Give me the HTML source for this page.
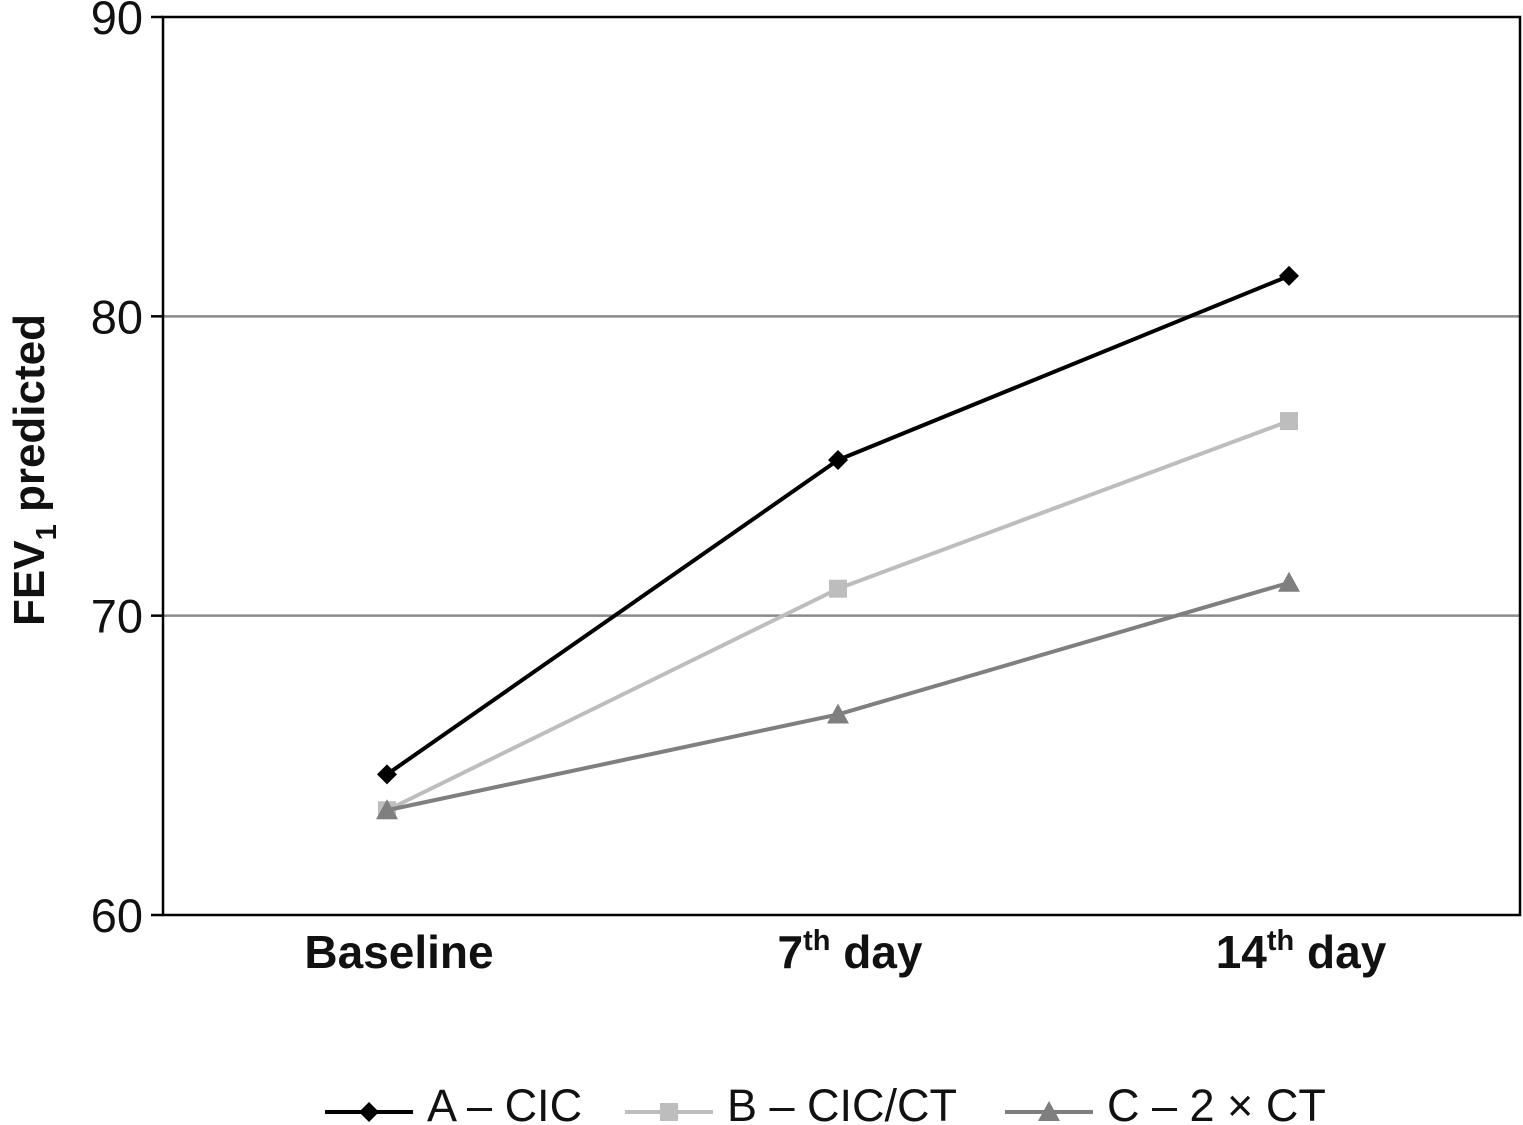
<!DOCTYPE html>
<html><head><meta charset="utf-8"><style>
html,body{margin:0;padding:0;background:#fff;}
svg{display:block;font-family:"Liberation Sans",sans-serif;}
</style></head><body>
<svg id="chart" width="1523" height="1125">
<g id="grid"></g><g id="axes"></g><g id="series"></g><g id="legend"></g>
</svg>
<script>
const categories = ["Baseline", "7th day", "14th day"];
const seriesNames = ["A – CIC", "B – CIC/CT", "C – 2 × CT"];
const seriesA = [64.7, 75.2, 81.35];
const seriesB = [63.5, 70.9, 76.5];
const seriesC = [63.5, 66.7, 71.1];
const yTicks = [60, 70, 80, 90];

const NS = "http://www.w3.org/2000/svg";
const L = 163, R = 1520, T = 17, B = 915;
const yMin = 60, yMax = 90;
function y(v){ return B - (v - yMin) / (yMax - yMin) * (B - T); }
function x(i){ return 387 + i * 451; }
function mk(tag, attrs, parent){
  const e = document.createElementNS(NS, tag);
  for (const k in attrs) e.setAttribute(k, attrs[k]);
  parent.appendChild(e); return e;
}
const grid = document.getElementById('grid'), axes = document.getElementById('axes');
const ser = document.getElementById('series'), leg = document.getElementById('legend');

yTicks.forEach(t => {
  if (t !== yMin && t !== yMax) {
    const g = mk('line', {x1:L, x2:R, y1:y(t), y2:y(t), stroke:'#8a8a8a', 'stroke-width':2.5}, grid);
    
    
  }
  const tk = mk('line', {x1:L-12, x2:L, y1:y(t), y2:y(t), stroke:'#000', 'stroke-width':2.5}, axes);
  
  
  const tx = mk('text', {x:L-20, y:y(t)+17, 'text-anchor':'end', 'font-size':47, fill:'#111'}, axes);
  tx.textContent = t;
  
  
});
const box = mk('rect', {x:L, y:T, width:R-L, height:B-T, fill:'none', stroke:'#000', 'stroke-width':2.5}, axes);



const catSup = [["Baseline",""],["7","th"],["14","th"]];
categories.forEach((c, i) => {
  const t = mk('text', {x:x(i)+12, y:968, 'text-anchor':'middle', 'font-size':46, 'font-weight':'bold', fill:'#111'}, axes);
  if (i === 0) t.textContent = c;
  else {
    const a = mk('tspan', {}, t); a.textContent = catSup[i][0];
    const s = mk('tspan', {dy:-18, 'font-size':29}, t); s.textContent = catSup[i][1];
    const d = mk('tspan', {dy:18}, t); d.textContent = " day";
  }
  
  
});

const yt = mk('text', {transform:'translate(44,470) rotate(-90)', 'text-anchor':'middle', 'font-size':44, 'font-weight':'bold', fill:'#111'}, axes);
const y1 = mk('tspan', {}, yt); y1.textContent = "FEV";
const y2 = mk('tspan', {dy:12, 'font-size':29}, yt); y2.textContent = "1";
const y3 = mk('tspan', {dy:-12}, yt); y3.textContent = " predicted";



function marker(kind, cx, cy, color, parent){
  let m;
  if (kind === 'diamond') m = mk('polygon', {points:`${cx},${cy-10} ${cx+10},${cy} ${cx},${cy+10} ${cx-10},${cy}`, fill:color}, parent);
  else if (kind === 'square') m = mk('rect', {x:cx-9, y:cy-9, width:18, height:18, fill:color}, parent);
  else m = mk('polygon', {points:`${cx},${cy-11} ${cx+11},${cy+9} ${cx-11},${cy+9}`, fill:color}, parent);
  return m;
}
const defs = [
  {vals:seriesA, color:'#000', kind:'diamond', id:'a'},
  {vals:seriesB, color:'#bdbdbd', kind:'square', id:'b'},
  {vals:seriesC, color:'#7f7f7f', kind:'triangle', id:'c'}
];
[defs[1], defs[2], defs[0]].forEach(s => {
  const pts = s.vals.map((v,i) => x(i)+','+y(v)).join(' ');
  const pl = mk('polyline', {points:pts, fill:'none', stroke:s.color, 'stroke-width':4}, ser);
  
  
  s.vals.forEach((v,i) => {
    const m = marker(s.kind, x(i), y(v), s.color, ser);
    
    
  });
});

const legX = [325, 625, 1005];
defs.forEach((s, i) => {
  const ln = mk('line', {x1:legX[i], x2:legX[i]+88, y1:1112, y2:1112, stroke:s.color, 'stroke-width':4}, leg);
  
  
  const m = marker(s.kind, legX[i]+44, 1112, s.color, leg);
  
  
  const t = mk('text', {x:legX[i]+102, y:1121, 'font-size':45, fill:'#111'}, leg);
  t.textContent = seriesNames[i];
  
  
});
</script>
</body></html>
